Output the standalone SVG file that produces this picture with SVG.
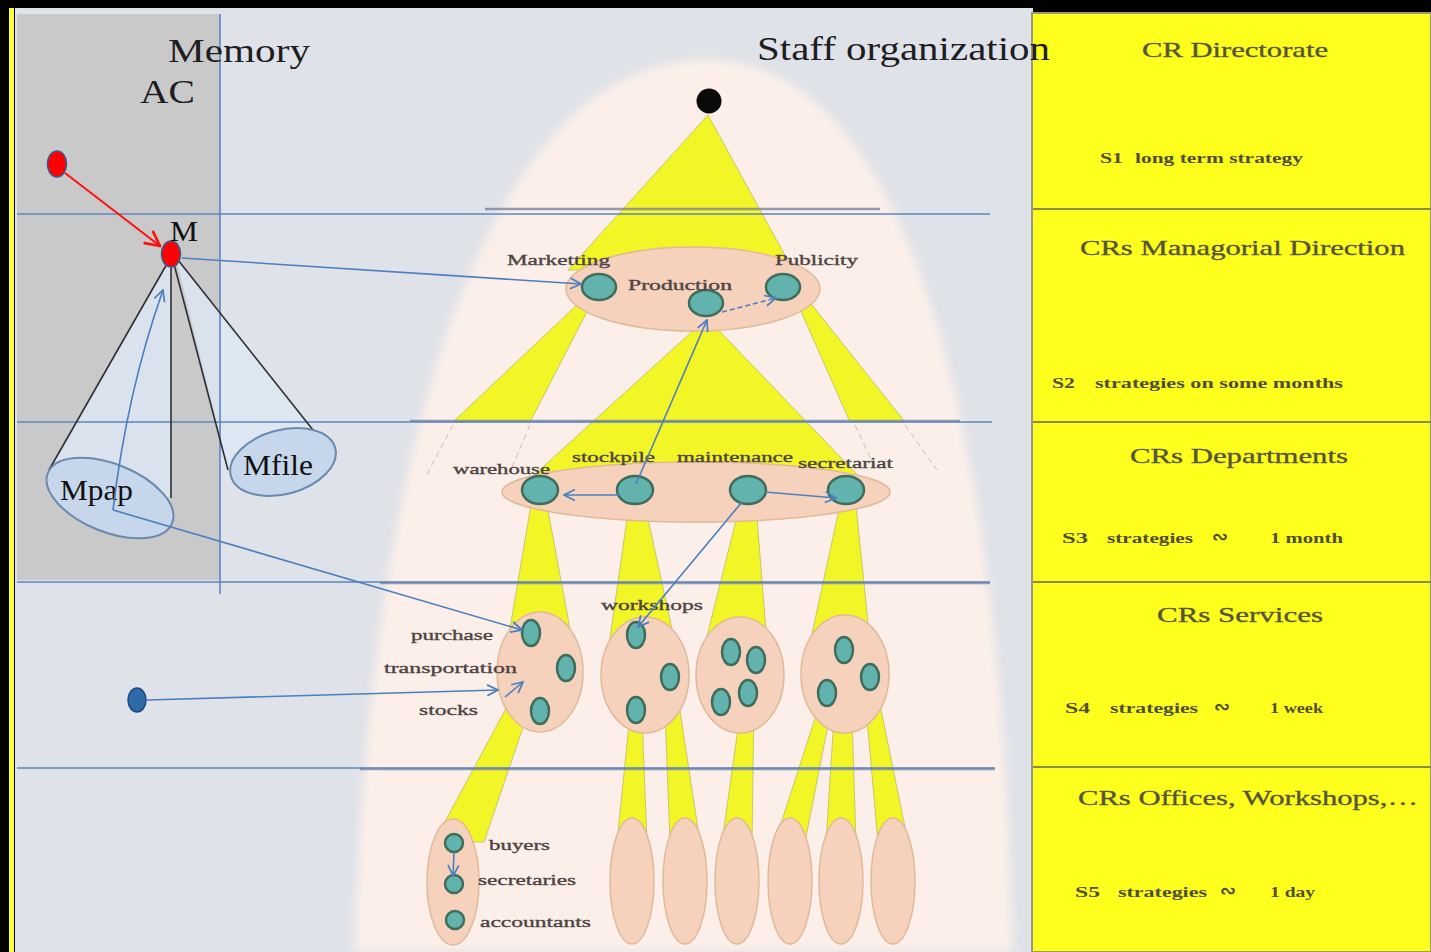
<svg xmlns="http://www.w3.org/2000/svg" width="1431" height="952" viewBox="0 0 1431 952">
<defs>
<style>
.t{font-family:"Liberation Serif","Times New Roman",serif}
.big{font-size:34px;fill:#1d1d22}
.mem{font-size:29px;fill:#111}
.lbl{font-size:15px;fill:#4e4444;stroke:#4e4444;stroke-width:0.35}
.head{font-size:22px;fill:#55553a;stroke:#55553a;stroke-width:0.35}
.sub{font-size:15px;fill:#4f4f36;font-weight:bold}
.sym{font-size:19px;font-family:"DejaVu Sans",sans-serif;font-weight:bold}
.node{fill:#62b3ad;stroke:#3f6d5b;stroke-width:2.5}
.peach{fill:#f6d2bc;stroke:#e0b999;stroke-width:1.5}
.band{fill:#f2f526;stroke:#c6c86a;stroke-width:1}
.conn{fill:none;stroke:#4a7fc0;stroke-width:1.6}
.rule{stroke:#5b86c2;stroke-width:1.6}
.ruleT{stroke:#6f7f9f;stroke-width:2.6;opacity:.75}
.cone{fill:#dde7f3;opacity:.85}
.coneEdge{stroke:#2f2f33;stroke-width:1.6;fill:none}
.mell{fill:#c6d7eb;stroke:#6a89ae;stroke-width:2}
.div{stroke:#8a8a52;stroke-width:2}
.faint{stroke:#cdbdb5;stroke-width:1;stroke-dasharray:6 4}
</style>
<marker id="ab" viewBox="0 0 12 12" refX="11" refY="6" markerWidth="13" markerHeight="13" markerUnits="userSpaceOnUse" orient="auto">
<path d="M1,1 L11,6 L1,11" fill="none" stroke="#4a7fc0" stroke-width="1.6"/>
</marker>
<marker id="ar" viewBox="0 0 12 12" refX="11" refY="6" markerWidth="18" markerHeight="18" markerUnits="userSpaceOnUse" orient="auto">
<path d="M1,1 L11,6 L1,11" fill="none" stroke="#ff1010" stroke-width="1.8"/>
</marker>
<filter id="soft" x="-10%" y="-10%" width="120%" height="120%"><feGaussianBlur stdDeviation="5"/></filter>
</defs>

<!-- frame and backgrounds -->
<rect x="0" y="0" width="1431" height="952" fill="#000"/>
<rect x="9" y="8" width="5" height="944" fill="#fbff3a"/>
<rect x="15" y="8" width="1018" height="944" fill="#dfe2e8"/>
<rect x="17" y="14" width="203" height="566" fill="#c9c9c9"/>
<path d="M355,952 C365,500 470,60 706,60 C930,60 1005,500 1012,952 Z" fill="#fcefe9" filter="url(#soft)"/>

<!-- yellow hierarchy shapes -->
<g id="bands">
<polygon class="band" points="708,115 568,270 793,270"/>
<polygon class="band" points="580,302 592,302 530,422 453,422"/>
<polygon class="band" points="796,300 808,300 905,422 850,422"/>
<polygon class="band" points="707,318 522,486 868,486"/>
<polygon class="band" points="531,505 547,505 572,640 508,640"/>
<polygon class="band" points="629,505 645,505 677,652 608,652"/>
<polygon class="band" points="740,505 756,505 768,656 702,656"/>
<polygon class="band" points="840,505 856,505 871,652 808,652"/>
<polygon class="band" points="516,690 533,698 484,842 434,842"/>
<polygon class="band" points="630,715 642,715 647,842 617,842"/>
<polygon class="band" points="664,685 676,685 700,842 670,842"/>
<polygon class="band" points="742,700 754,700 752,842 722,842"/>
<polygon class="band" points="821,700 833,700 805,842 775,842"/>
<polygon class="band" points="838,655 850,655 856,842 826,842"/>
<polygon class="band" points="864,685 876,685 908,842 878,842"/>
</g>
<g id="faint-links">
<line class="faint" x1="453" y1="425" x2="425" y2="478"/>
<line class="faint" x1="530" y1="425" x2="510" y2="472"/>
<line class="faint" x1="855" y1="425" x2="876" y2="470"/>
<line class="faint" x1="905" y1="425" x2="937" y2="470"/>
</g>

<!-- memory cones (fills) -->
<g id="cone-fills">
<polygon class="cone" points="171,257 49,470 171,498"/>
<polygon class="cone" points="176,258 228,470 313,430"/>
</g>

<!-- level rules -->
<g id="rules">
<line class="rule" x1="220" y1="14" x2="220" y2="594"/>
<line class="ruleT" x1="485" y1="209" x2="880" y2="209"/>
<line class="rule" x1="17" y1="214" x2="990" y2="214"/>
<line class="ruleT" x1="410" y1="421" x2="960" y2="421"/>
<line class="rule" x1="17" y1="422" x2="992" y2="422"/>
<line class="ruleT" x1="380" y1="583" x2="990" y2="583"/>
<line class="rule" x1="17" y1="582" x2="990" y2="582"/>
<line class="ruleT" x1="360" y1="769" x2="995" y2="769"/>
<line class="rule" x1="17" y1="768" x2="995" y2="768"/>
</g>

<!-- memory side -->
<g id="memory-labels" class="t">
<text class="big" x="168" y="62" textLength="142" lengthAdjust="spacingAndGlyphs">Memory</text>
<text class="big" x="140" y="103" font-size="32" textLength="55" lengthAdjust="spacingAndGlyphs">AC</text>
</g>
<g id="cone-mpap">
<line class="coneEdge" x1="168" y1="262" x2="49" y2="470"/>
<line class="coneEdge" x1="171" y1="264" x2="171" y2="498"/>
<ellipse class="mell" cx="110" cy="498" rx="67" ry="34" transform="rotate(22 110 498)"/>
<text class="t mem" x="60" y="500" textLength="73" lengthAdjust="spacingAndGlyphs">Mpap</text>
</g>
<g id="cone-mfile">
<line class="coneEdge" x1="174" y1="264" x2="228" y2="470"/>
<line class="coneEdge" x1="178" y1="260" x2="313" y2="430"/>
<ellipse class="mell" cx="283" cy="462" rx="54" ry="32" transform="rotate(-15 283 462)"/>
<text class="t mem" x="243" y="475" textLength="70" lengthAdjust="spacingAndGlyphs">Mfile</text>
</g>
<g id="node-input">
<ellipse cx="57" cy="164" rx="9.5" ry="13" fill="#ff0000" stroke="#3a5a8a" stroke-width="1.5"/>
</g>
<g id="node-M">
<ellipse cx="171" cy="254" rx="9.5" ry="13" fill="#ff0000" stroke="#3a5a8a" stroke-width="1.5"/>
<text class="t mem" x="170" y="241" font-size="27" textLength="28" lengthAdjust="spacingAndGlyphs">M</text>
</g>
<g id="node-external">
<ellipse cx="137" cy="700" rx="9" ry="12" fill="#2e6aa8" stroke="#1e4a80" stroke-width="1.5"/>
</g>

<!-- staff organization -->
<g id="root">
<circle cx="709" cy="101" r="12.5" fill="#0a0a0a"/>
</g>

<g id="level-direction">
<ellipse class="peach" cx="693" cy="289" rx="127" ry="42"/>
<g id="n-marketting"><ellipse class="node" cx="599" cy="287" rx="17" ry="13"/>
<text class="t lbl" x="507" y="265" textLength="103" lengthAdjust="spacingAndGlyphs">Marketting</text></g>
<g id="n-production"><ellipse class="node" cx="706" cy="303" rx="17" ry="13"/>
<text class="t lbl" x="628" y="290" textLength="104" lengthAdjust="spacingAndGlyphs">Production</text></g>
<g id="n-publicity"><ellipse class="node" cx="783" cy="287" rx="17" ry="13"/>
<text class="t lbl" x="775" y="265" textLength="83" lengthAdjust="spacingAndGlyphs">Publicity</text></g>
</g>

<g id="level-departments">
<ellipse class="peach" cx="696" cy="492" rx="194" ry="30"/>
<g id="n-warehouse"><ellipse class="node" cx="540" cy="490" rx="18" ry="14"/>
<text class="t lbl" x="453" y="474" textLength="97" lengthAdjust="spacingAndGlyphs">warehouse</text></g>
<g id="n-stockpile"><ellipse class="node" cx="635" cy="490" rx="18" ry="14"/>
<text class="t lbl" x="572" y="462" textLength="83" lengthAdjust="spacingAndGlyphs">stockpile</text></g>
<g id="n-maintenance"><ellipse class="node" cx="748" cy="490" rx="18" ry="14"/>
<text class="t lbl" x="677" y="462" textLength="116" lengthAdjust="spacingAndGlyphs">maintenance</text></g>
<g id="n-secretariat"><ellipse class="node" cx="846" cy="490" rx="18" ry="14"/>
<text class="t lbl" x="798" y="468" textLength="95" lengthAdjust="spacingAndGlyphs">secretariat</text></g>
</g>

<g id="level-services">
<g id="s-warehouse">
<ellipse class="peach" cx="540" cy="672" rx="43" ry="60"/>
<ellipse class="node" cx="531" cy="633" rx="9" ry="13"/>
<ellipse class="node" cx="566" cy="668" rx="9" ry="13"/>
<ellipse class="node" cx="540" cy="711" rx="9" ry="13"/>
<text class="t lbl" x="411" y="640" textLength="82" lengthAdjust="spacingAndGlyphs">purchase</text>
<text class="t lbl" x="384" y="673" textLength="133" lengthAdjust="spacingAndGlyphs">transportation</text>
<text class="t lbl" x="419" y="715" textLength="59" lengthAdjust="spacingAndGlyphs">stocks</text>
</g>
<g id="s-stockpile">
<ellipse class="peach" cx="645" cy="675" rx="44" ry="58"/>
<ellipse class="node" cx="636" cy="635" rx="9" ry="13"/>
<ellipse class="node" cx="670" cy="677" rx="9" ry="13"/>
<ellipse class="node" cx="636" cy="710" rx="9" ry="13"/>
<text class="t lbl" x="601" y="610" textLength="102" lengthAdjust="spacingAndGlyphs">workshops</text>
</g>
<g id="s-maintenance">
<ellipse class="peach" cx="740" cy="675" rx="44" ry="58"/>
<ellipse class="node" cx="731" cy="652" rx="9" ry="13"/>
<ellipse class="node" cx="756" cy="660" rx="9" ry="13"/>
<ellipse class="node" cx="721" cy="702" rx="9" ry="13"/>
<ellipse class="node" cx="748" cy="693" rx="9" ry="13"/>
</g>
<g id="s-secretariat">
<ellipse class="peach" cx="845" cy="674" rx="44" ry="59"/>
<ellipse class="node" cx="844" cy="650" rx="9" ry="13"/>
<ellipse class="node" cx="870" cy="677" rx="9" ry="13"/>
<ellipse class="node" cx="827" cy="693" rx="9" ry="13"/>
</g>
</g>

<g id="level-offices">
<g id="o-1">
<ellipse class="peach" cx="453" cy="882" rx="26" ry="63"/>
<ellipse class="node" cx="454" cy="843" rx="9" ry="9" stroke-width="2"/>
<ellipse class="node" cx="454" cy="884" rx="9" ry="9" stroke-width="2"/>
<ellipse class="node" cx="455" cy="920" rx="9" ry="9" stroke-width="2"/>
<text class="t lbl" x="489" y="850" textLength="61" lengthAdjust="spacingAndGlyphs">buyers</text>
<text class="t lbl" x="478" y="885" textLength="98" lengthAdjust="spacingAndGlyphs">secretaries</text>
<text class="t lbl" x="480" y="927" textLength="111" lengthAdjust="spacingAndGlyphs">accountants</text>
</g>
<g id="o-2"><ellipse class="peach" cx="632" cy="881" rx="22" ry="63"/></g>
<g id="o-3"><ellipse class="peach" cx="685" cy="881" rx="22" ry="63"/></g>
<g id="o-4"><ellipse class="peach" cx="737" cy="881" rx="22" ry="63"/></g>
<g id="o-5"><ellipse class="peach" cx="790" cy="881" rx="22" ry="63"/></g>
<g id="o-6"><ellipse class="peach" cx="841" cy="881" rx="22" ry="63"/></g>
<g id="o-7"><ellipse class="peach" cx="893" cy="881" rx="22" ry="63"/></g>
</g>

<!-- connectors -->
<g id="connectors">
<line x1="65" y1="173" x2="160" y2="246" stroke="#ff1010" stroke-width="2" marker-end="url(#ar)"/>
<line class="conn" x1="182" y1="258" x2="581" y2="284" marker-end="url(#ab)"/>
<path class="conn" d="M113,510 Q127,392 163,290" marker-end="url(#ab)"/>
<line class="conn" x1="113" y1="510" x2="522" y2="630" marker-end="url(#ab)"/>
<line class="conn" x1="147" y1="700" x2="498" y2="690" marker-end="url(#ab)"/>
<line class="conn" x1="505" y1="697" x2="523" y2="682" marker-end="url(#ab)"/>
<line class="conn" x1="722" y1="312" x2="776" y2="298" stroke-dasharray="5 3" marker-end="url(#ab)"/>
<line class="conn" x1="636" y1="484" x2="707" y2="320" marker-end="url(#ab)"/>
<line class="conn" x1="620" y1="495" x2="564" y2="495" marker-end="url(#ab)"/>
<line class="conn" x1="765" y1="492" x2="836" y2="498" marker-end="url(#ab)"/>
<line class="conn" x1="742" y1="502" x2="638" y2="627" marker-end="url(#ab)"/>
<line class="conn" x1="454" y1="852" x2="453" y2="876" marker-end="url(#ab)"/>
</g>

<!-- strategy levels panel -->
<g id="panel">
<rect x="1032" y="13" width="399" height="939" fill="#ffff1e" stroke="#9a9a78" stroke-width="2"/>
<line class="div" x1="1033" y1="209" x2="1431" y2="209"/>
<line class="div" x1="1033" y1="422" x2="1431" y2="422"/>
<line class="div" x1="1033" y1="582" x2="1431" y2="582"/>
<line class="div" x1="1033" y1="767" x2="1431" y2="767"/>
<g id="p-directorate" class="t">
<text class="head" x="1142" y="57" font-size="21" textLength="186" lengthAdjust="spacingAndGlyphs">CR Directorate</text>
<text class="sub" y="163"><tspan x="1100" textLength="23" lengthAdjust="spacingAndGlyphs">S1</tspan><tspan x="1135" textLength="168" lengthAdjust="spacingAndGlyphs">long term strategy</tspan></text>
</g>
<g id="p-managorial" class="t">
<text class="head" x="1080" y="255" textLength="325" lengthAdjust="spacingAndGlyphs">CRs Managorial Direction</text>
<text class="sub" y="388"><tspan x="1052" textLength="23" lengthAdjust="spacingAndGlyphs">S2</tspan><tspan x="1095" textLength="248" lengthAdjust="spacingAndGlyphs">strategies on some months</tspan></text>
</g>
<g id="p-departments" class="t">
<text class="head" x="1130" y="463" textLength="218" lengthAdjust="spacingAndGlyphs">CRs Departments</text>
<text class="sub" y="543"><tspan x="1062" textLength="26" lengthAdjust="spacingAndGlyphs">S3</tspan><tspan x="1107" textLength="86" lengthAdjust="spacingAndGlyphs">strategies</tspan><tspan class="sym" x="1212">∾</tspan><tspan x="1270" textLength="73" lengthAdjust="spacingAndGlyphs">1 month</tspan></text>
</g>
<g id="p-services" class="t">
<text class="head" x="1157" y="622" textLength="166" lengthAdjust="spacingAndGlyphs">CRs Services</text>
<text class="sub" y="713"><tspan x="1065" textLength="25" lengthAdjust="spacingAndGlyphs">S4</tspan><tspan x="1110" textLength="88" lengthAdjust="spacingAndGlyphs">strategies</tspan><tspan class="sym" x="1214">∾</tspan><tspan x="1270" textLength="53" lengthAdjust="spacingAndGlyphs">1 week</tspan></text>
</g>
<g id="p-offices" class="t">
<text class="head" x="1078" y="805" textLength="340" lengthAdjust="spacingAndGlyphs">CRs Offices, Workshops,…</text>
<text class="sub" y="897"><tspan x="1075" textLength="25" lengthAdjust="spacingAndGlyphs">S5</tspan><tspan x="1118" textLength="89" lengthAdjust="spacingAndGlyphs">strategies</tspan><tspan class="sym" x="1220">∾</tspan><tspan x="1270" textLength="45" lengthAdjust="spacingAndGlyphs">1 day</tspan></text>
</g>
</g>

<!-- section title, drawn last so it runs over the panel edge -->
<text class="t big" x="757" y="60" font-size="32" textLength="293" lengthAdjust="spacingAndGlyphs">Staff organization</text>
</svg>
